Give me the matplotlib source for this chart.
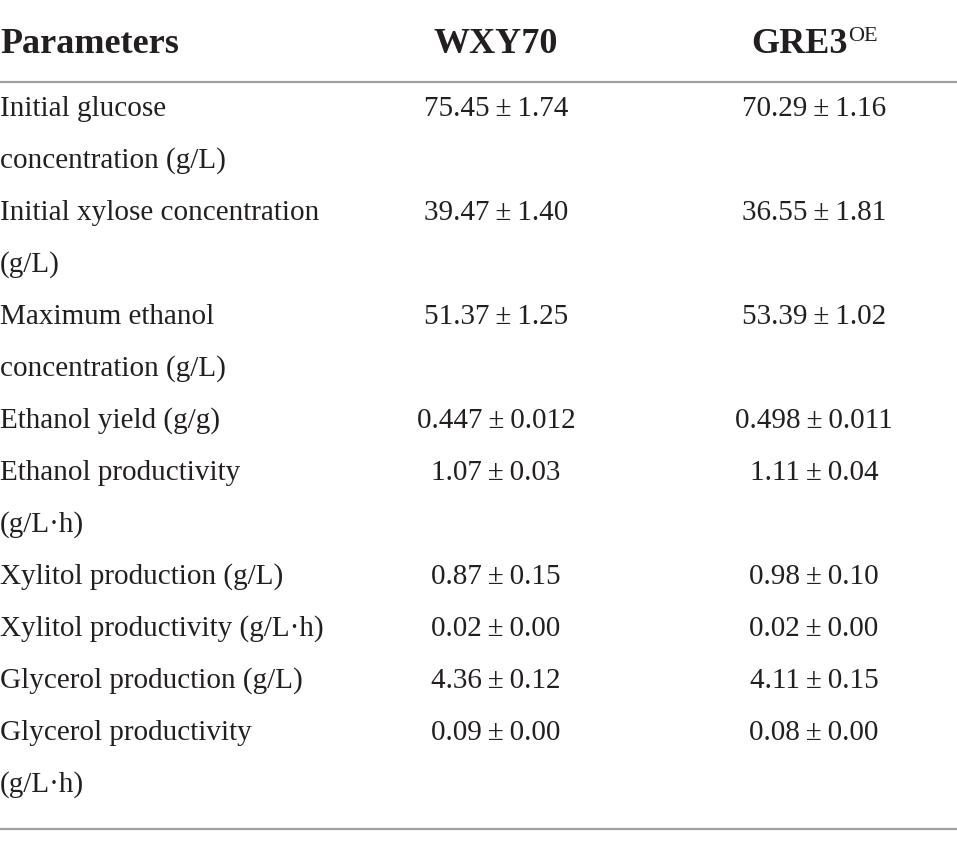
import matplotlib
matplotlib.use("Agg")
import matplotlib.pyplot as plt
from matplotlib.lines import Line2D

# ---- data ----
header_param = "Parameters"
header_cols = ["WXY70", "GRE3"]
header_sups = ["", "OE"]
parameters = [
    "Initial glucose\nconcentration (g/L)",
    "Initial xylose concentration\n(g/L)",
    "Maximum ethanol\nconcentration (g/L)",
    "Ethanol yield (g/g)",
    "Ethanol productivity\n(g/L\u00b7h)",
    "Xylitol production (g/L)",
    "Xylitol productivity (g/L\u00b7h)",
    "Glycerol production (g/L)",
    "Glycerol productivity\n(g/L\u00b7h)",
]
wxy70_mean = [75.45, 39.47, 51.37, 0.447, 1.07, 0.87, 0.02, 4.36, 0.09]
wxy70_sd = [1.74, 1.40, 1.25, 0.012, 0.03, 0.15, 0.00, 0.12, 0.00]
gre3_mean = [70.29, 36.55, 53.39, 0.498, 1.11, 0.98, 0.02, 4.11, 0.08]
gre3_sd = [1.16, 1.81, 1.02, 0.011, 0.04, 0.10, 0.00, 0.15, 0.00]
decimals = [2, 2, 2, 3, 2, 2, 2, 2, 2]

# ---- layout (pixels) ----
W, H = 957, 848
fig = plt.figure(figsize=(W / 100, H / 100), dpi=100)
fig.patch.set_facecolor("white")
renderer = fig.canvas.get_renderer()

def fy(py):
    return 1 - py / H

def fx(px):
    return px / W

serif = ['Liberation Serif', 'DejaVu Serif']
body_size = 21
head_size = 26
sup_size = 16
col_x = [496, 814]
txt_color = "#231f20"
head_base = 53

# header
fig.text(fx(0), fy(head_base), header_param, ha='left', va='baseline',
         fontsize=head_size, fontweight='bold', family=serif, color=txt_color)
for cx, lab, sup in zip(col_x, header_cols, header_sups):
    t = fig.text(0, fy(head_base), lab, ha='left', va='baseline',
                 fontsize=head_size, fontweight='bold', family=serif, color=txt_color)
    w1 = t.get_window_extent(renderer).width
    w2 = 0
    s = None
    if sup:
        s = fig.text(0, fy(head_base - 12), sup, ha='left', va='baseline',
                     fontsize=sup_size, family=serif, color=txt_color)
        w2 = s.get_window_extent(renderer).width
    left = cx - (w1 + w2) / 2
    t.set_x(fx(left))
    if s is not None:
        s.set_x(fx(left + w1 + 1))

# rules
for py in (82, 829):
    fig.add_artist(Line2D([0, 1], [fy(py), fy(py)], transform=fig.transFigure,
                          color="#a0a0a0", lw=1.6))

# body rows
base0 = 116
step = 52
line = 0
ts = "\u2009"
for i, p in enumerate(parameters):
    lines = p.split("\n")
    by = base0 + step * line
    for j, ln in enumerate(lines):
        fig.text(fx(0), fy(base0 + step * (line + j)), ln, ha='left', va='baseline',
                 fontsize=body_size, family=serif, color=txt_color)
    d = decimals[i]
    v1 = f"{wxy70_mean[i]:.{d}f}{ts}\u00b1{ts}{wxy70_sd[i]:.{d}f}"
    v2 = f"{gre3_mean[i]:.{d}f}{ts}\u00b1{ts}{gre3_sd[i]:.{d}f}"
    fig.text(fx(col_x[0]), fy(by), v1, ha='center', va='baseline',
             fontsize=body_size, family=serif, color=txt_color)
    fig.text(fx(col_x[1]), fy(by), v2, ha='center', va='baseline',
             fontsize=body_size, family=serif, color=txt_color)
    line += len(lines)

fig.savefig("out.png", dpi=100, facecolor="white")
